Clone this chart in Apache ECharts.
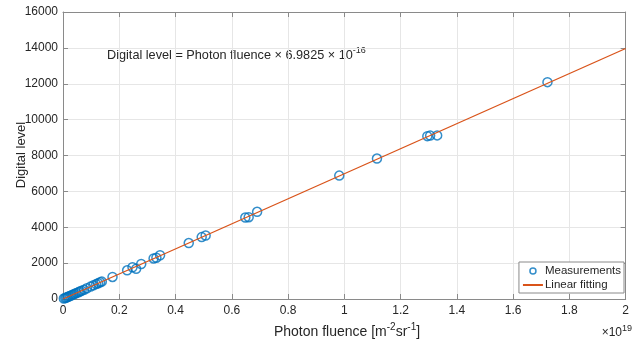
<!DOCTYPE html>
<html>
<head>
<meta charset="utf-8">
<script src="https://cdn.jsdelivr.net/npm/echarts@6/dist/echarts.min.js"></script>
<style>
  html, body { margin: 0; padding: 0; background: #fff; }
  #chart { width: 632px; height: 347px; }
</style>
</head>
<body>
<div id="chart"></div>
<script>
// Photon fluence (×10^19 m^-2 sr^-1) and the measured digital level
const fluence = [0.003, 0.008, 0.012, 0.016, 0.020, 0.025, 0.030, 0.036, 0.042, 0.048,
  0.055, 0.060, 0.066, 0.075, 0.085, 0.098, 0.108, 0.118, 0.125, 0.132, 0.138,
  0.176, 0.228, 0.247, 0.260, 0.278, 0.322, 0.332, 0.345, 0.447, 0.493, 0.507,
  0.648, 0.660, 0.690, 0.982, 1.116, 1.295, 1.305, 1.330, 1.722];
const digitalLevel = [30, 60, 85, 110, 140, 170, 205, 250, 290, 330,
  380, 420, 460, 520, 600, 690, 760, 830, 880, 930, 970,
  1230, 1600, 1770, 1680, 1950, 2260, 2300, 2440, 3120, 3450, 3540,
  4540, 4560, 4860, 6880, 7830, 9080, 9110, 9120, 12090];

// Linear fit endpoints: Digital level = fluence × 6.9825e-16
const fitX = [0, 2];
const fitY = [0, 13965];

const xTicks = { min: 0, max: 2, interval: 0.2 };
const yTicks = { min: 0, max: 16000, interval: 2000 };

const measurements = fluence.map((x, i) => [x, digitalLevel[i]]);
const fitting = fitX.map((x, i) => [x, fitY[i]]);

const FONT = 'Liberation Sans, Arial, sans-serif';
const AXIS_COLOR = '#8a8a8a';
const TEXT_COLOR = '#262626';

const chart = echarts.init(document.getElementById('chart'), null, { renderer: 'canvas' });

const baseAxis = {
  axisLine: { show: true, onZero: false, lineStyle: { color: AXIS_COLOR, width: 1 } },
  axisTick: { show: true, inside: true, length: 5, lineStyle: { color: AXIS_COLOR } },
  axisLabel: { color: TEXT_COLOR, fontFamily: FONT, fontSize: 12, formatter: v => String(v) },
  splitLine: { show: true, lineStyle: { color: '#e6e6e6', width: 1 } }
};

chart.setOption({
  animation: false,
  backgroundColor: '#fff',
  grid: { left: 63, right: 1, top: 12, bottom: 48, containLabel: false },
  xAxis: [
    Object.assign({}, baseAxis, {
      type: 'value', position: 'bottom', min: xTicks.min, max: xTicks.max, interval: xTicks.interval,
      axisLabel: Object.assign({}, baseAxis.axisLabel, { margin: 6 })
    }),
    Object.assign({}, baseAxis, {
      type: 'value', position: 'top', min: xTicks.min, max: xTicks.max, interval: xTicks.interval,
      axisLabel: { show: false }, splitLine: { show: false }
    })
  ],
  yAxis: [
    Object.assign({}, baseAxis, {
      type: 'value', position: 'left', min: yTicks.min, max: yTicks.max, interval: yTicks.interval,
      axisLabel: Object.assign({}, baseAxis.axisLabel, { margin: 5 })
    }),
    Object.assign({}, baseAxis, {
      type: 'value', position: 'right', min: yTicks.min, max: yTicks.max, interval: yTicks.interval,
      axisLabel: { show: false }, splitLine: { show: false }
    })
  ],
  legend: {
    orient: 'vertical',
    right: 8, top: 262,
    backgroundColor: '#fff',
    borderColor: '#8a8a8a', borderWidth: 1, borderRadius: 0,
    padding: [3, 3, 2, 3],
    itemGap: 2,
    itemWidth: 20, itemHeight: 6,
    textStyle: { color: TEXT_COLOR, fontFamily: FONT, fontSize: 11.5, padding: [0, 0, 0, -3] },
    data: [
      { name: 'Measurements', icon: 'circle',
        itemStyle: { color: '#fff', borderColor: '#0072BD', borderWidth: 1.5 } },
      { name: 'Linear fitting', itemStyle: { opacity: 0 } }
    ]
  },
  series: [
    {
      name: 'Measurements', type: 'scatter',
      symbol: 'circle', symbolSize: 9,
      itemStyle: { color: 'rgba(255,255,255,0)', borderColor: '#0072BD', borderWidth: 1.5 },
      data: measurements, z: 2
    },
    {
      name: 'Linear fitting', type: 'line',
      showSymbol: false, symbol: 'none',
      lineStyle: { color: '#D95319', width: 1.3 },
      itemStyle: { color: '#D95319' },
      data: fitting, z: 3
    }
  ],
  graphic: [
    {
      type: 'text', rotation: Math.PI / 2,
      style: { text: 'Digital level', fill: TEXT_COLOR, font: '13px ' + FONT, align: 'center', verticalAlign: 'middle' },
      x: 21, y: 155
    },
    {
      type: 'text', x: 347, y: 331,
      style: {
        text: '{n|Photon fluence [m}{s|-2}{n|sr}{s|-1}{n|]}',
        align: 'center', verticalAlign: 'middle',
        rich: {
          n: { fontFamily: FONT, fontSize: 14, fill: TEXT_COLOR, verticalAlign: 'bottom', lineHeight: 17 },
          s: { fontFamily: FONT, fontSize: 10, fill: TEXT_COLOR, verticalAlign: 'top', lineHeight: 17, padding: [0, 0, 6, 0] }
        }
      }
    },
    {
      type: 'text', x: 632, y: 333,
      style: {
        text: '{n|×10}{s|19}',
        align: 'right', verticalAlign: 'middle',
        rich: {
          n: { fontFamily: FONT, fontSize: 12, fill: TEXT_COLOR, lineHeight: 16 },
          s: { fontFamily: FONT, fontSize: 9, fill: TEXT_COLOR, lineHeight: 16, padding: [0, 0, 8, 0] }
        }
      }
    },
    {
      type: 'text', x: 107, y: 55,
      style: {
        text: '{n|Digital level = Photon fluence × 6.9825 × 10}{s|-16}',
        align: 'left', verticalAlign: 'middle',
        rich: {
          n: { fontFamily: FONT, fontSize: 12.7, fill: TEXT_COLOR, lineHeight: 16 },
          s: { fontFamily: FONT, fontSize: 9, fill: TEXT_COLOR, lineHeight: 16, padding: [0, 0, 8, 0] }
        }
      }
    }
  ]
});
</script>
</body>
</html>
